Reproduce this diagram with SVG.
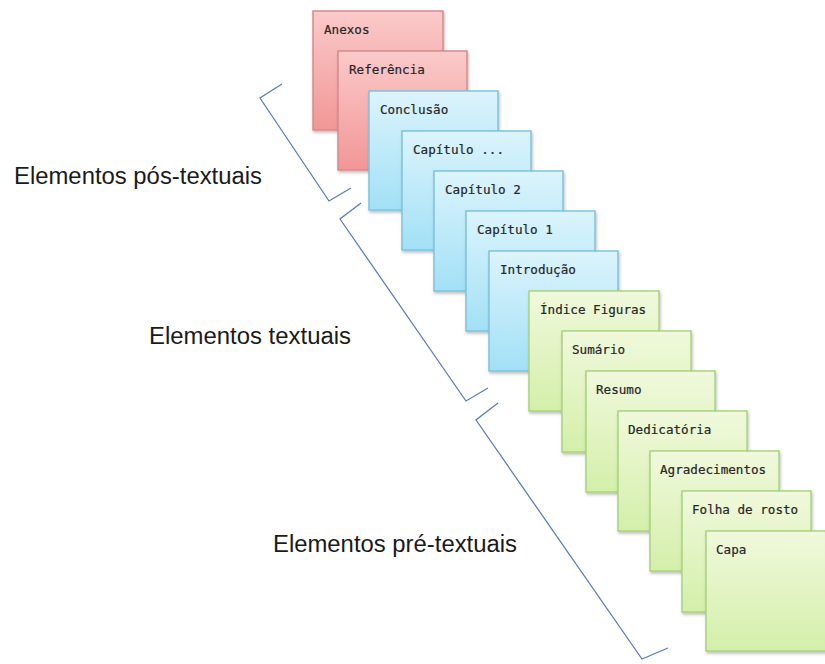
<svg xmlns="http://www.w3.org/2000/svg" width="825" height="664" viewBox="0 0 825 664">
<defs>
<linearGradient id="gr" x1="0" y1="0" x2="0" y2="1"><stop offset="0" stop-color="#fbcaca"/><stop offset="1" stop-color="#f29696"/></linearGradient>
<linearGradient id="gb" x1="0" y1="0" x2="0" y2="1"><stop offset="0" stop-color="#dcf4fc"/><stop offset="1" stop-color="#a2e0f6"/></linearGradient>
<linearGradient id="gg" x1="0" y1="0" x2="0" y2="1"><stop offset="0" stop-color="#f0f9dc"/><stop offset="1" stop-color="#d4efaa"/></linearGradient>
<filter id="sh" x="-10%" y="-10%" width="130%" height="130%"><feDropShadow dx="1" dy="2" stdDeviation="1.5" flood-color="#000" flood-opacity="0.25"/></filter>
</defs>
<style>
.r{fill:url(#gr);stroke:#d78a8a;stroke-width:1.5}
.b{fill:url(#gb);stroke:#7cc3df;stroke-width:1.5}
.g{fill:url(#gg);stroke:#a9d47c;stroke-width:1.5}
.card rect{filter:url(#sh)}
.t{font-family:"DejaVu Sans Mono","Liberation Mono",monospace;font-size:12.6px;fill:#262626;stroke:#262626;stroke-width:0.2}
.lab{font-family:"Liberation Sans",Arial,sans-serif;font-size:23px;fill:#1a1a1a}
.br{fill:none;stroke:#5b7fb8;stroke-width:1.3}
</style>
<rect width="825" height="664" fill="#fff"/>
<g id="anexos" class="card"><rect class="r" x="313" y="11" width="130" height="119"/><text class="t" x="324" y="34">Anexos</text></g>
<g id="referencia" class="card"><rect class="r" x="338" y="51" width="129" height="119"/><text class="t" x="349" y="74">Referência</text></g>
<g id="conclusao" class="card"><rect class="b" x="369" y="91" width="129" height="119"/><text class="t" x="380" y="114">Conclusão</text></g>
<g id="capitulo-n" class="card"><rect class="b" x="402" y="131" width="129" height="119"/><text class="t" x="413" y="154">Capítulo ...</text></g>
<g id="capitulo-2" class="card"><rect class="b" x="434" y="171" width="129" height="120"/><text class="t" x="445" y="194">Capítulo 2</text></g>
<g id="capitulo-1" class="card"><rect class="b" x="466" y="211" width="129" height="120"/><text class="t" x="477" y="234">Capítulo 1</text></g>
<g id="introducao" class="card"><rect class="b" x="489" y="251" width="129" height="120"/><text class="t" x="500" y="274">Introdução</text></g>
<g id="indice-figuras" class="card"><rect class="g" x="529" y="291" width="130" height="120"/><text class="t" x="540" y="314">Índice Figuras</text></g>
<g id="sumario" class="card"><rect class="g" x="562" y="331" width="129" height="121"/><text class="t" x="572" y="354">Sumário</text></g>
<g id="resumo" class="card"><rect class="g" x="586" y="371" width="129" height="121"/><text class="t" x="596" y="394">Resumo</text></g>
<g id="dedicatoria" class="card"><rect class="g" x="618" y="411" width="129" height="120"/><text class="t" x="628" y="434">Dedicatória</text></g>
<g id="agradecimentos" class="card"><rect class="g" x="650" y="451" width="129" height="120"/><text class="t" x="660" y="474">Agradecimentos</text></g>
<g id="folha-de-rosto" class="card"><rect class="g" x="682" y="491" width="129" height="121"/><text class="t" x="692" y="514">Folha de rosto</text></g>
<g id="capa" class="card"><rect class="g" x="706" y="531" width="130" height="120"/><text class="t" x="716" y="554">Capa</text></g>
<g id="connectors">
<polyline class="br" points="282,84 260,98 329,201 351,188"/>
<polyline class="br" points="361,203 340,219 466,401 488,388"/>
<polyline class="br" points="498,403 476,420 642,659 668,648"/>
</g>
<g id="labels">
<text class="lab" x="14" y="184" textLength="248" lengthAdjust="spacingAndGlyphs">Elementos pós-textuais</text>
<text class="lab" x="149" y="344" textLength="202" lengthAdjust="spacingAndGlyphs">Elementos textuais</text>
<text class="lab" x="273" y="552" textLength="244" lengthAdjust="spacingAndGlyphs">Elementos pré-textuais</text>
</g>
</svg>
